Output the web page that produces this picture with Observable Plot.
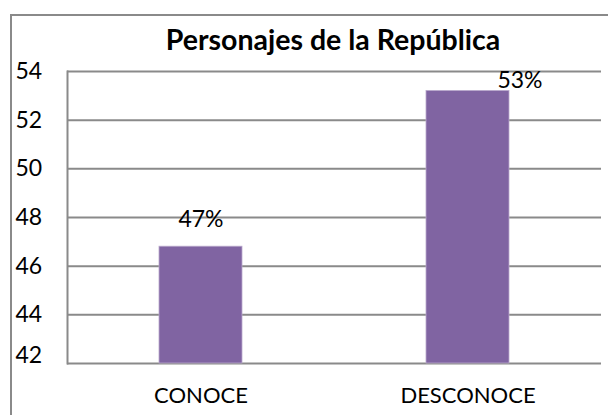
<!DOCTYPE html>
<html>
<head>
<meta charset="utf-8">
<script src="https://cdn.jsdelivr.net/npm/d3@7"></script>
<script src="https://cdn.jsdelivr.net/npm/@observablehq/plot@0.6"></script>
<style>
  html, body { margin: 0; padding: 0; background: #ffffff; }
  #wrap { position: relative; width: 608px; height: 415px; overflow: hidden; font-family: Lato, "Open Sans", sans-serif; }
  #box { position: absolute; left: 10px; top: 14px; width: 620px; height: 420px; border: 2px solid #8a8a8a; background: #fff; box-sizing: border-box; }
  #title { position: absolute; left: 0; width: 666px; top: 21px; text-align: center; font-weight: 700; font-size: 28.5px; color: #000; line-height: 36px; }
  #chart { position: absolute; left: 0; top: 0; }
</style>
</head>
<body>
<div id="wrap">
  <div id="box"></div>
  <div id="chart"></div>
  <div id="title">Personajes de la República</div>
</div>
<script>
const categories = ["CONOCE", "DESCONOCE"];
const values = [46.8, 53.2];
const valueLabels = ["47%", "53%"];
const yTicks = [42, 44, 46, 48, 50, 52, 54];

const data = categories.map((c, i) => ({cat: c, value: values[i], label: valueLabels[i]}));
const yMin = yTicks[0];
const font = "Lato, 'Open Sans', sans-serif";

const chart = Plot.plot({
  width: 608,
  height: 415,
  marginLeft: 67,
  marginRight: 7,
  marginTop: 71,
  marginBottom: 52,
  style: {background: "transparent", fontFamily: font, color: "#000"},
  x: {domain: categories, paddingInner: 0.69, paddingOuter: 0.345},
  y: {domain: [yTicks[0], yTicks[yTicks.length - 1]]},
  marks: [
    Plot.ruleY(yTicks, {stroke: "#8a8a8a", strokeWidth: 2}),
    Plot.frame({anchor: "left", stroke: "#8a8a8a", strokeWidth: 2}),
    Plot.barY(data, {x: "cat", y1: () => yMin, y2: "value", fill: "#8064A2", stroke: "#b9a9cc", strokeWidth: 0.8}),
    Plot.axisY(yTicks.slice(1), {tickSize: 0, tickPadding: 52, textAnchor: "start", fontSize: 23, fill: "#000", label: null}),
    Plot.axisY(yTicks.slice(0, 1), {tickSize: 0, tickPadding: 52, textAnchor: "start", fontSize: 23, fill: "#000", dy: -8, label: null}),
    Plot.axisX({tickSize: 0, tickPadding: 24, fontSize: 22, fill: "#000", label: null}),
    Plot.text(data.filter(d => d.cat === categories[0]), {x: "cat", y: "value", text: "label", fontSize: 23, fill: "#000", dy: -27}),
    Plot.text(data.filter(d => d.cat === categories[1]), {x: "cat", y: "value", text: "label", fontSize: 23, fill: "#000", dy: -10, dx: 52})
  ]
});
document.getElementById("chart").appendChild(chart);
</script>
</body>
</html>
